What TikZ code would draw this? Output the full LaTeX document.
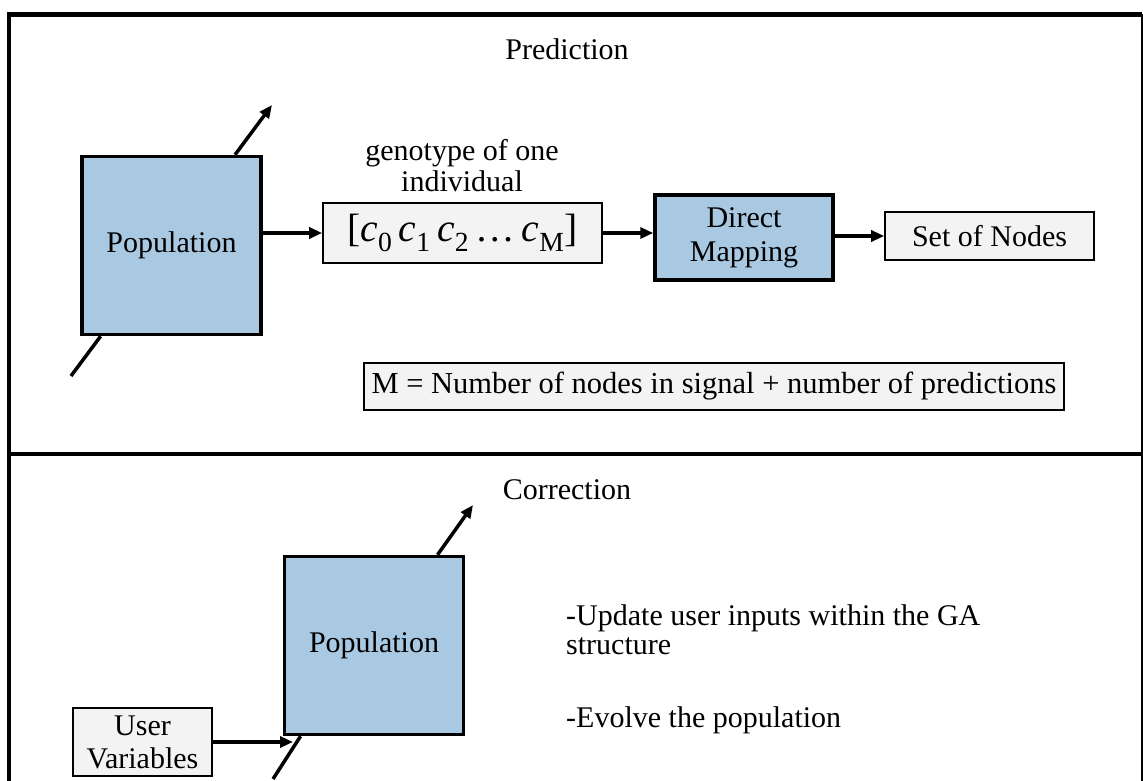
\documentclass[tikz,border=0pt]{standalone}
\usepackage{fontspec}
\setmainfont{Liberation Serif}
\usepackage{tikz}
\usetikzlibrary{arrows.meta}
\definecolor{popblue}{HTML}{A9C9E3}
\definecolor{boxgray}{HTML}{F3F3F3}

\begin{document}
\begin{tikzpicture}[
    x=1pt, y=-1pt,
    every node/.style={font=\fontsize{30}{34}\selectfont},
    frame/.style={line width=4.5pt},
    popbox/.style={rectangle, draw=black, fill=popblue, line width=3.5pt, minimum width=179pt, minimum height=178pt},
    mapbox/.style={rectangle, draw=black, fill=popblue, line width=3.5pt, minimum width=178pt, minimum height=85pt, align=center},
    lightbox/.style={rectangle, draw=black, fill=boxgray, line width=1.6pt, align=center},
    arrow/.style={-{Triangle[length=13pt, width=11pt]}, line width=3.5pt},
    plain/.style={line width=3.5pt}
]
\useasboundingbox (0,0) rectangle (1143,781);
% frame of the two panels
\draw[frame] (9,781) -- (9,14.5) -- (1142,14.5);
\draw[line width=2pt] (1142,14.5) -- (1142,781);
\draw[frame] (9,454) -- (1142,454);

% prediction panel
\node (predtitle) at (567,49) {Prediction};
\node[popbox] (pop1) at (171.5,245.5) {Population};
\node[lightbox, minimum width=279pt, minimum height=60pt, font=\fontsize{39.5}{42}\selectfont] (gen) at (462.5,233)
    {[\textit{c}\textsubscript{0}\,\textit{c}\textsubscript{1}\,\textit{c}\textsubscript{2}\,\ldots\,\textit{c}\textsubscript{M}]};
\node[align=center, font=\fontsize{30}{31}\selectfont] (genlabel) at (462,166) {genotype of one\\individual};
\node[mapbox, font=\fontsize{30}{34}\selectfont] (dm) at (744,237.5) {Direct\\Mapping};
\node[lightbox, minimum width=209pt, minimum height=48pt] (setnodes) at (989.5,236) {Set of Nodes};
\node[lightbox, minimum width=700pt, minimum height=47pt, font=\fontsize{30.5}{34}\selectfont] (mdef) at (714,386.5) {M = Number of nodes in signal + number of predictions};
\coordinate (pop1out) at (272,105);
\coordinate (pop1in) at (71,376);

\draw[arrow] (pop1.55) -- (pop1out);
\draw[plain] (pop1in) -- (pop1.232);
\draw[arrow] (gen.west -| pop1.east) -- (gen.west);
\draw[arrow] (gen.east) -- (gen.east -| dm.west);
\draw[arrow] (setnodes.west -| dm.east) -- (setnodes.west);

% correction panel
\node (corrtitle) at (567,490) {Correction};
\node[popbox] (pop2) at (374,645.5) {Population};
\node[lightbox, minimum width=139pt, minimum height=68pt, font=\fontsize{30}{33}\selectfont] (uv) at (142.5,742) {User\\Variables};
\node[anchor=base west, inner sep=0pt] (upd) at (566,625) {-Update user inputs within the GA};
\node[anchor=base west, inner sep=0pt] (upd2) at (566,654) {structure};
\node[anchor=base west, inner sep=0pt] (evo) at (566,727) {-Evolve the population};
\coordinate (pop2out) at (473,505);
\coordinate (pop2in) at (273,779);
\coordinate (uvin) at (293,742);

\draw[arrow] (pop2.55) -- (pop2out);
\draw[plain] (pop2in) -- (pop2.231);
\draw[arrow] (uv.east) -- (uvin);
\end{tikzpicture}
\end{document}
